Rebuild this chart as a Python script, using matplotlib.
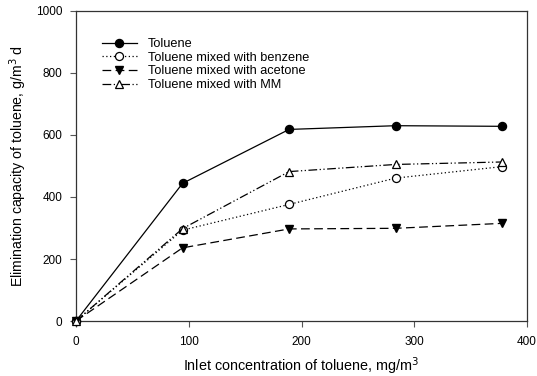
import matplotlib
matplotlib.use("Agg")
import matplotlib.pyplot as plt

x = [0, 94.5, 189, 283.5, 378]
toluene = [0, 444, 618, 630, 628]
benzene = [0, 293, 376, 461, 498]
acetone = [0, 236, 297, 299, 315]
mm = [0, 298, 482, 505, 513]
labels = ["Toluene", "Toluene mixed with benzene", "Toluene mixed with acetone", "Toluene mixed with MM"]

plt.rcParams['font.family'] = ['Liberation Sans', 'DejaVu Sans']
fig = plt.figure(figsize=(5.37, 3.76), dpi=100)
ax = fig.add_axes([76/537, 1-321/376, (527-76)/537, (321-11)/376])

lw = 0.9
ms = 5.8
ax.plot(x, toluene, color='black', lw=lw, ls='-', marker='o', ms=ms, mfc='black', mec='black', clip_on=False, label=labels[0], zorder=3)
ax.plot(x, benzene, color='black', lw=lw, ls=(0, (1, 2)), marker='o', ms=ms, mfc='white', mec='black', mew=0.9, clip_on=False, label=labels[1], zorder=3)
ax.plot(x, acetone, color='black', lw=lw, ls=(0, (7, 3.5)), marker='v', ms=ms, mfc='black', mec='black', clip_on=False, label=labels[2], zorder=3)
ax.plot(x, mm, color='black', lw=lw, ls=(0, (7, 2, 1, 2, 1, 2)), marker='^', ms=ms, mfc='white', mec='black', mew=0.9, clip_on=False, label=labels[3], zorder=3)

ax.set_xlim(0, 400)
ax.set_ylim(0, 1000)
ax.set_xticks([0, 100, 200, 300, 400])
ax.set_yticks([0, 200, 400, 600, 800, 1000])
ax.tick_params(direction='out', length=4, width=0.8, labelsize=8.5, color='#555555')
ax.tick_params(axis='x', pad=7)
ax.tick_params(axis='y', pad=6)
for s in ax.spines.values():
    s.set_linewidth(0.9)
    s.set_color('#333333')

ax.set_xlabel("Inlet concentration of toluene, mg/m$^3$", fontsize=10.4, labelpad=5)
ax.set_ylabel("Elimination capacity of toluene, g/m$^3$ d", fontsize=10.2, labelpad=5)

leg = ax.legend(loc='upper left', bbox_to_anchor=(0.044, 0.933), frameon=False, fontsize=9.2,
                handlelength=2.7, handletextpad=0.85, labelspacing=0.13, borderpad=0)

fig.savefig("out.png", dpi=100)
